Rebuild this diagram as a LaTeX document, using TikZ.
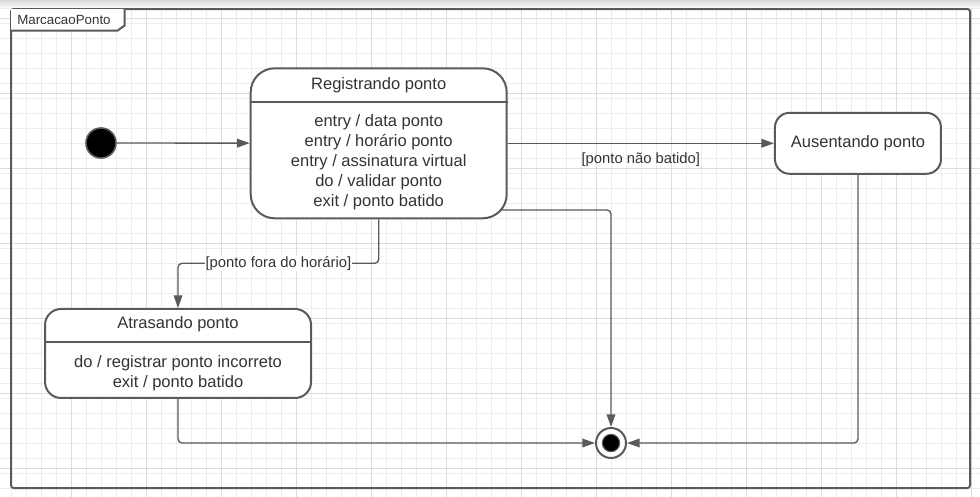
\documentclass[tikz,border=0pt]{standalone}
\usepackage{fontspec}
\setmainfont{Liberation Sans}
\usepackage{xcolor}
\usepackage{tikz}
\usetikzlibrary{arrows.meta, positioning, backgrounds, calc}
\definecolor{lineGray}{HTML}{5A5A5A}
\definecolor{txtGray}{HTML}{333333}
\definecolor{gridMinor}{HTML}{EDEDED}
\definecolor{gridMajor}{HTML}{DCDCDC}
\tikzstyle{stateround} = [rectangle, draw=lineGray, line width=1.5pt, fill=white,
                          text=txtGray, font=\fontsize{12.4pt}{15pt}\selectfont]
\tikzstyle{statetext}  = [text=txtGray, align=center, inner sep=0pt,
                          font=\fontsize{12.4pt}{15pt}\selectfont]
\tikzstyle{divider}    = [draw=lineGray, line width=1.5pt]
\tikzstyle{guard}      = [text=txtGray, inner sep=0.5pt, font=\fontsize{11.1pt}{13pt}\selectfont]
\tikzstyle{arr}        = [-{Triangle[length=9.5pt, width=6.5pt]}, draw=lineGray,
                          line width=1pt, rounded corners=3pt]
\tikzstyle{initstate}  = [circle, draw=lineGray, line width=1.2pt, fill=black,
                          minimum size=22.5pt, inner sep=0pt]
\tikzstyle{finalring}  = [circle, draw=lineGray, line width=1.5pt, fill=white,
                          minimum size=22.5pt, inner sep=0pt]
\tikzstyle{finaldot}   = [circle, draw=lineGray, line width=0.8pt, fill=black,
                          minimum size=13pt, inner sep=0pt]
\tikzstyle{umlframe}   = [rectangle, draw=lineGray, line width=1.5pt, rounded corners=2pt,
                          outer sep=0pt, minimum width=719.25pt, minimum height=359.25pt]
\tikzstyle{tagbox}     = [fill=white, text=txtGray, inner xsep=4.5pt, inner ysep=0pt,
                          text width=75.75pt, minimum height=15.75pt,
                          font=\fontsize{10pt}{12pt}\selectfont]

\begin{document}
\begin{tikzpicture}[x=0.75pt, y=-0.75pt]
  \useasboundingbox (0,0) rectangle (980,496);

  % grid paper
  \begin{scope}[on background layer]
    \clip (0,0) rectangle (980,496);
    \begin{scope}[shift={(8.75pt,-6.25pt)}]
      \draw[gridMinor, line width=0.75pt, step=11.25pt] (-20pt,20pt) grid (740pt,-380pt);
    \end{scope}
    \begin{scope}[shift={(53.75pt,-13.75pt)}]
      \draw[gridMajor, line width=0.75pt, step=56.25pt] (-60pt,60pt) grid (740pt,-380pt);
    \end{scope}
    \fill[top color=black!14, bottom color=black!3] (0,0) rectangle (980,7);
  \end{scope}

  \node[umlframe] (frame) at (490.5,248.5) {};
  \node[tagbox, anchor=north west] (tag) at (frame.north west) {MarcacaoPonto};
  \draw[lineGray, line width=1.5pt] (tag.north east) -- ([yshift=3.75pt]tag.south east)
    -- ([xshift=-5.25pt]tag.south east) -- (tag.south west);

  \node[initstate] (init) at (101,143) {};

  \node[stateround, rounded corners=18pt, minimum width=192pt, minimum height=112.5pt] (reg) at (378.7,143.3) {};
  \node[statetext] (regtitle) at ([yshift=43.7pt]reg.center) {Registrando ponto};
  \draw[divider] ([yshift=30.75pt]reg.west) -- ([yshift=30.75pt]reg.east);
  \node[statetext] (regbody) at ([yshift=-14.5pt]reg.center)
    {entry / data ponto\\entry / horário ponto\\entry / assinatura virtual\\do / validar ponto\\exit / ponto batido};

  \node[stateround, rounded corners=11pt, minimum width=124.5pt, minimum height=45.75pt,
        right=199.7pt of reg] (aus) {Ausentando ponto};

  \node[stateround, rounded corners=12pt, minimum width=199.5pt, minimum height=66.75pt,
        below=66.5pt of reg, xshift=-150.5pt] (atr) {};
  \node[statetext] (atrtitle) at ([yshift=21.7pt]atr.center) {Atrasando ponto};
  \draw[divider] ([yshift=8.85pt]atr.west) -- ([yshift=8.85pt]atr.east);
  \node[statetext] (atrbody) at ([yshift=-14.85pt]atr.center)
    {do / registrar ponto incorreto\\exit / ponto batido};

  \node[finalring] (final) at (611,443) {};
  \node[finaldot] (finaldot) at (final) {};

  % transitions
  \begin{scope}[on background layer]
    \draw[arr] (init) -- (reg);
    \draw[arr] (reg) -- node[guard, below=6pt] {[ponto não batido]} (aus);
    \coordinate (bend) at ([yshift=-33pt]reg.south);
    \draw[arr] (reg.south) -- (bend) -| node[guard, fill=white, pos=0.25] {[ponto fora do horário]} (atr.north);
    \draw[arr] ([xshift=-10pt, yshift=-50pt]reg.east) -| (final);
    \draw[arr] (atr) |- (final);
    \draw[arr] (aus) |- (final);
  \end{scope}
\end{tikzpicture}
\end{document}
